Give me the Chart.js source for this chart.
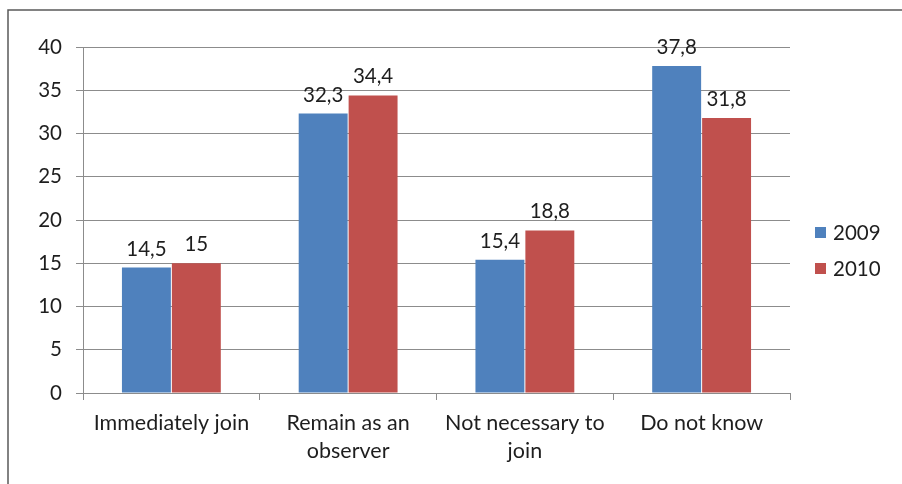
<!DOCTYPE html>
<html>
<head>
<meta charset="utf-8">
<script src="https://cdn.jsdelivr.net/npm/chart.js@4/dist/chart.umd.min.js"></script>
<style>
  html, body { margin: 0; padding: 0; background: #fff; }
  #wrap { width: 902px; height: 484px; }
</style>
</head>
<body>
<div id="wrap"><canvas id="c" width="902" height="484"></canvas></div>
<script>
// Categories (each entry is the list of lines of its axis label)
const categories = [
  ["Immediately join"],
  ["Remain as an", "observer"],
  ["Not necessary to", "join"],
  ["Do not know"]
];
const seriesNames = ["2009", "2010"];
const values2009 = [14.5, 32.3, 15.4, 37.8];
const values2010 = [15, 34.4, 18.8, 31.8];
const yTicks = { min: 0, max: 40, step: 5 };
const seriesColors = ["#4F81BD", "#C0504D"];

const FONT = "Lato, 'Liberation Sans', sans-serif";
const TEXT = "#1e1e1e";
const GRID = "#8c8c8c";

// Numbers shown with a decimal comma
const fmt = v => String(v).replace(".", ",");

// Outer frame of the chart (top and left edges)
const framePlugin = {
  id: "frame",
  beforeDraw(chart) {
    const ctx = chart.ctx;
    ctx.save();
    ctx.strokeStyle = "#595959";
    ctx.lineWidth = 1.5;
    ctx.beginPath();
    ctx.moveTo(8, chart.height);
    ctx.lineTo(8, 10);
    ctx.lineTo(chart.width, 10);
    ctx.stroke();
    ctx.restore();
  }
};

// Value labels above each bar
const valueLabels = {
  id: "valueLabels",
  afterDatasetsDraw(chart) {
    const ctx = chart.ctx;
    ctx.save();
    ctx.font = "20.5px " + FONT;
    ctx.fillStyle = TEXT;
    ctx.textAlign = "center";
    ctx.textBaseline = "alphabetic";
    chart.data.datasets.forEach((ds, i) => {
      chart.getDatasetMeta(i).data.forEach((bar, j) => {
        ctx.fillText(fmt(ds.data[j]), bar.x, bar.y - 12);
      });
    });
    ctx.restore();
  }
};

// Legend on the right side
const sideLegend = {
  id: "sideLegend",
  afterDraw(chart) {
    const ctx = chart.ctx;
    ctx.save();
    ctx.font = "20.5px " + FONT;
    ctx.textBaseline = "middle";
    ctx.textAlign = "left";
    chart.data.datasets.forEach((ds, i) => {
      const cy = 232 + i * 36;
      ctx.fillStyle = ds.backgroundColor;
      ctx.fillRect(815, cy - 5, 11, 11);
      ctx.fillStyle = TEXT;
      ctx.fillText(ds.label, 833, cy + 1);
    });
    ctx.restore();
  }
};

new Chart(document.getElementById("c"), {
  type: "bar",
  data: {
    labels: categories,
    datasets: [
      { label: seriesNames[0], data: values2009, backgroundColor: seriesColors[0] },
      { label: seriesNames[1], data: values2010, backgroundColor: seriesColors[1] }
    ]
  },
  options: {
    responsive: false,
    animation: false,
    devicePixelRatio: 1,
    layout: { padding: { top: 47, right: 112, left: 0, bottom: 0 } },
    datasets: { bar: { categoryPercentage: 0.565, barPercentage: 0.98 } },
    plugins: { legend: { display: false }, tooltip: { enabled: false } },
    scales: {
      x: {
        afterFit(scale) { scale.height = 91; },
        grid: { drawOnChartArea: false, drawTicks: true, tickLength: 7, color: GRID, offset: true },
        border: { color: GRID },
        ticks: { color: TEXT, font: { family: FONT, size: 21.5, lineHeight: 1.3 }, padding: 9, maxRotation: 0, autoSkip: false }
      },
      y: {
        min: yTicks.min, max: yTicks.max,
        afterFit(scale) { scale.width = 83; },
        grid: { color: GRID, tickLength: 7 },
        border: { color: GRID },
        ticks: { stepSize: yTicks.step, color: TEXT, font: { family: FONT, size: 20.5 }, padding: 14 }
      }
    }
  },
  plugins: [framePlugin, valueLabels, sideLegend]
});
</script>
</body>
</html>
